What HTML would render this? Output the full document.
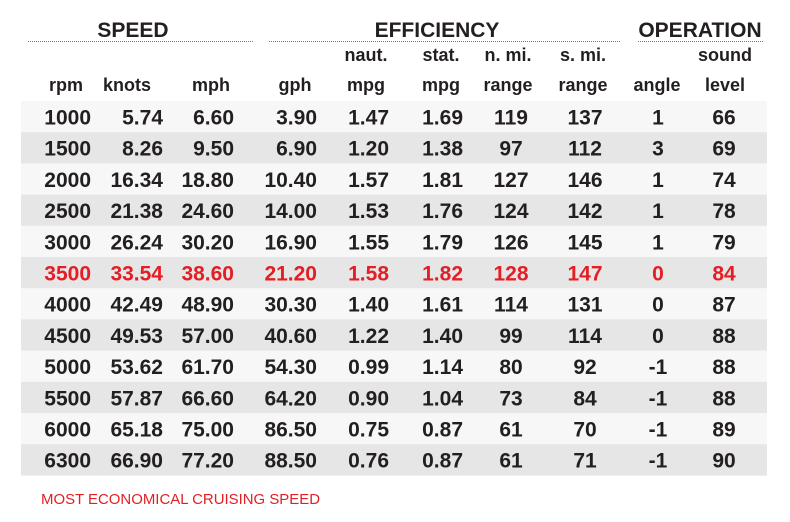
<!DOCTYPE html>
<html><head><meta charset="utf-8"><style>
html,body{margin:0;padding:0;background:#fff;}
svg{display:block;font-family:"Liberation Sans",Arial,sans-serif;}
</style></head><body>
<svg id="t" width="790" height="522" viewBox="0 0 790 522">
<g font-weight="bold" font-size="21" fill="#231f20" text-anchor="middle">
<text x="133" y="37">SPEED</text>
<line x1="28" y1="41.5" x2="253" y2="41.5" stroke="#777" stroke-dasharray="1,1"/>
<text x="437" y="37">EFFICIENCY</text>
<line x1="269" y1="41.5" x2="621" y2="41.5" stroke="#777" stroke-dasharray="1,1"/>
<text x="700" y="37">OPERATION</text>
<line x1="638" y1="41.5" x2="763" y2="41.5" stroke="#777" stroke-dasharray="1,1"/>
</g>
<g id="colh" font-weight="bold" font-size="18" fill="#231f20" text-anchor="middle"></g>
<g id="rows"></g>
<text x="41" y="504" font-size="14.5" fill="#e31e24" textLength="279" lengthAdjust="spacingAndGlyphs">MOST ECONOMICAL CRUISING SPEED</text>
</svg>
<script>
const rpm=["1000","1500","2000","2500","3000","3500","4000","4500","5000","5500","6000","6300"];
const knots=["5.74","8.26","16.34","21.38","26.24","33.54","42.49","49.53","53.62","57.87","65.18","66.90"];
const mph=["6.60","9.50","18.80","24.60","30.20","38.60","48.90","57.00","61.70","66.60","75.00","77.20"];
const gph=["3.90","6.90","10.40","14.00","16.90","21.20","30.30","40.60","54.30","64.20","86.50","88.50"];
const nmpg=["1.47","1.20","1.57","1.53","1.55","1.58","1.40","1.22","0.99","0.90","0.75","0.76"];
const smpg=["1.69","1.38","1.81","1.76","1.79","1.82","1.61","1.40","1.14","1.04","0.87","0.87"];
const nrange=["119","97","127","124","126","128","114","99","80","73","61","61"];
const srange=["137","112","146","142","145","147","131","114","92","84","70","71"];
const angle=["1","3","1","1","1","0","0","0","-1","-1","-1","-1"];
const sound=["66","69","74","78","79","84","87","88","88","88","89","90"];
const highlightRow=5;
const headTop=["","","","","naut.","stat.","n. mi.","s. mi.","","sound"];
const headBot=["rpm","knots","mph","gph","mpg","mpg","range","range","angle","level"];
const NS="http://www.w3.org/2000/svg";
const cols=[[rpm,91,"end"],[knots,163,"end"],[mph,234,"end"],[gph,317,"end"],[nmpg,389,"end"],[smpg,463,"end"],[nrange,511,"middle"],[srange,585,"middle"],[angle,658,"middle"],[sound,724,"middle"]];
const hx=[66,127,211,295,366,441,508,583,657,725];
const ch=document.getElementById('colh');
for(let i=0;i<hx.length;i++){
 [[headTop[i],61],[headBot[i],91]].forEach(([s,y])=>{ if(!s)return;
  const t=document.createElementNS(NS,'text');t.setAttribute('x',hx[i]);t.setAttribute('y',y);t.textContent=s;
  
  
  ch.appendChild(t);});
}
const rows=document.getElementById('rows');
const top0=101,rh=31.2;
for(let r=0;r<rpm.length;r++){
 const g=document.createElementNS(NS,'g');
 
 
 const y=top0+rh*r;
 const bg=document.createElementNS(NS,'rect');
 bg.setAttribute('x',21);bg.setAttribute('y',y);bg.setAttribute('width',746);bg.setAttribute('height',rh+0.3);
 bg.setAttribute('fill',r%2?'#e6e6e6':'#f7f7f7');
 
 
 g.appendChild(bg);
 cols.forEach(([arr,x,anc])=>{
  const t=document.createElementNS(NS,'text');
  t.setAttribute('x',x);t.setAttribute('y',y+23.5);t.setAttribute('text-anchor',anc);
  t.setAttribute('font-size','21');t.setAttribute('font-weight','bold');
  t.setAttribute('fill',r===highlightRow?'#e31e24':'#231f20');
  t.textContent=arr[r];
  
  
  g.appendChild(t);
 });
 rows.appendChild(g);
}
</script>
</body></html>
